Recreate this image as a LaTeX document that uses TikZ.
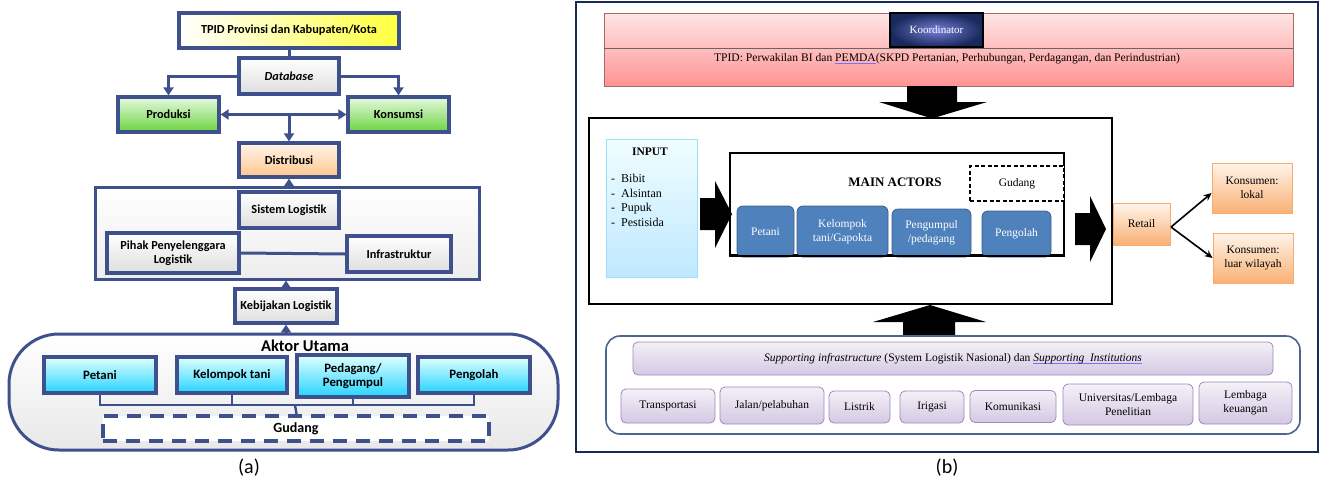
\documentclass[tikz,border=0pt]{standalone}
\usepackage{fontspec}
\setmainfont{Carlito}
\newfontfamily\cam{Liberation Serif}
\usetikzlibrary{arrows.meta,calc}
\definecolor{abl}{RGB}{63,81,141}
\definecolor{navy}{RGB}{24,42,92}
\definecolor{actb}{RGB}{79,129,189}
\definecolor{actd}{RGB}{56,93,138}
\definecolor{orb}{RGB}{247,150,70}
\definecolor{purb}{RGB}{160,134,192}
\definecolor{supb}{RGB}{74,101,145}
\newcommand\bluline[1]{\setbox0\hbox{#1}\rlap{\textcolor{blue!55}{\rule[-2pt]{\wd0}{0.6pt}}}\box0}
\begin{document}
\begin{tikzpicture}[x=1pt,y=-1pt,
  abox/.style={draw=abl, line width=3.2pt, inner sep=1pt, align=center,
    font=\fontsize{12.3}{13.5}\selectfont\bfseries},
  graybox/.style={abox, top color=white, bottom color=black!13},
  greenbox/.style={abox, top color=green!60!olive!12!white, bottom color=green!55!olive!75!white},
  orangebox/.style={abox, top color=orange!8, bottom color=orange!45!white},
  cyanbox/.style={abox, top color=cyan!12, bottom color=cyan!80!blue!85, font=\fontsize{12.8}{13.8}\selectfont\bfseries},
  aarr/.style={draw=abl, line width=3pt, -{Triangle[length=8pt,width=10pt]}},
  aline/.style={draw=abl, line width=3pt},
  bbox/.style={inner sep=1pt, align=center, font=\cam\fontsize{11.5}{14}\selectfont},
  actor/.style={bbox, draw=actd, line width=0.8pt, fill=actb, rounded corners=6pt, text=white},
  orbox/.style={bbox, draw=orb!80, line width=0.8pt, top color=orange!8, bottom color=orb!75},
  purbox/.style={bbox, draw=purb, line width=0.8pt, top color=purb!12, bottom color=purb!45, rounded corners=5pt},
  barr/.style={draw=black, line width=1.6pt, -{Stealth[length=8pt,width=7pt]}},
  lbl/.style={font=\fontsize{20}{22}\selectfont}
]
\useasboundingbox (0,0) rectangle (1320,483);

% ================= panel (a) =================
\node[abox, minimum width=220pt, minimum height=35pt, left color=white, right color=yellow!75] (tpid) at (289,30.5) {TPID Provinsi dan Kabupaten/Kota};
\node[graybox, minimum width=100pt, minimum height=36pt] (db) at (289,76) {\textit{Database}};
\node[greenbox, minimum width=101pt, minimum height=35pt] (prod) at (168.5,114.5) {Produksi};
\node[greenbox, minimum width=101pt, minimum height=35pt] (kons) at (398.5,114.5) {Konsumsi};
\node[orangebox, minimum width=100pt, minimum height=34pt] (dist) at (289,160) {Distribusi};

\node[draw=abl, line width=3pt, top color=white, bottom color=black!7, minimum width=384pt, minimum height=92pt] (sys) at (287,233) {};
\node[graybox, minimum width=100pt, minimum height=36pt] (sl) at (289,210) {Sistem Logistik};
\node[graybox, minimum width=132pt, minimum height=40pt] (pihak) at (173,253) {Pihak Penyelenggara\\Logistik};
\node[graybox, minimum width=104pt, minimum height=36pt] (infra) at (399,254) {Infrastruktur};
\node[graybox, minimum width=102pt, minimum height=34pt] (keb) at (286,306) {Kebijakan Logistik};

\node[draw=abl, line width=3pt, top color=white, bottom color=black!9, rounded corners=50pt, minimum width=549pt, minimum height=116pt] (aktor) at (283.5,392) {};
\node[font=\fontsize{16.5}{17}\selectfont\bfseries] (aktorlbl) at (305,346) {Aktor Utama};
\node[cyanbox, minimum width=112pt, minimum height=36pt] (petani) at (100,375) {Petani};
\node[cyanbox, minimum width=110pt, minimum height=36pt] (kt) at (232,375) {Kelompok tani};
\node[cyanbox, line width=3.6pt, minimum width=112pt, minimum height=42pt] (ped) at (353,376) {Pedagang/\\Pengumpul};
\node[cyanbox, minimum width=112pt, minimum height=36pt] (peng) at (474,375) {Pengolah};
\node[abox, draw=abl, fill=white, dash pattern=on 14pt off 9pt, minimum width=386pt, minimum height=25pt, font=\fontsize{14}{15}\selectfont\bfseries] (gud) at (296,428.5) {Gudang};

\draw[aline] (tpid.south) -- (db.north);
\draw[aarr] (db.west) -| (prod.north);
\draw[aarr] (db.east) -| (kons.north);
\draw[draw=abl, line width=3pt, {Triangle[length=8pt,width=10pt]}-{Triangle[length=8pt,width=10pt]}] (prod.east) -- (kons.west);
\coordinate (mid) at (289,114.5);
\draw[aarr] (mid) -- (dist.north);
\draw[aarr] (dist.south |- sys.north) -- (dist.south);
\draw[aline] (pihak.east) -- (infra.west);
\draw[aarr] (keb.north) -- (keb.north |- sys.south);
\draw[aarr] (keb.south |- aktor.north) -- (keb.south);
\coordinate (brk) at (0,405);
\draw[aline, line width=2.4pt] (petani.south) -- (petani.south |- brk) -- (peng.south |- brk) -- (peng.south);
\draw[aline, line width=2.4pt] (kt.south) -- (kt.south |- brk);
\draw[aline, line width=2.4pt] (ped.south) -- (ped.south |- brk);
\coordinate (bk1) at (295,405);
\coordinate (bk2) at (297,417);
\draw[aline, line width=2.4pt] (bk1) -- (bk2);
\node[lbl] (la) at (249,468) {(a)};

% ================= panel (b) =================
\node[draw=navy, line width=2pt, minimum width=742pt, minimum height=450pt, inner sep=0pt] (frame) at (947,227) {};
\node[draw=red!45!black!60, line width=0.6pt, top color=red!10, bottom color=red!42, minimum width=689pt, minimum height=73pt, inner sep=0pt] (pink) at (948.5,49.5) {};
\draw[black!60, line width=0.8pt] (pink.west |- 0,48) -- (pink.east |- 0,48);
\node[draw=black, line width=1.4pt, inner color=navy!45!blue!55!white, outer color=navy, minimum width=93pt, minimum height=34pt, inner sep=0pt, font=\cam\fontsize{11}{12}\selectfont, text=white] (koord) at (936.5,30) {Koordinator};
\node[bbox, font=\cam\fontsize{11.6}{13}\selectfont] (tpidb) at (947,59) {TPID: Perwakilan BI dan \bluline{PEMDA}(SKPD Pertanian, Perhubungan, Perdagangan, dan Perindustrian)};

\fill[black] (907,86) -- (957,86) -- (957,102) -- (987,102) -- (932,118.5) -- (879,102) -- (907,102) -- cycle;

\node[draw=black, line width=1.6pt, minimum width=523pt, minimum height=186pt, inner sep=0pt] (main) at (850.5,211) {};
\node[draw=blue!30!cyan!40, line width=0.8pt, top color=blue!12!cyan!6, bottom color=blue!35!cyan!25, minimum width=91pt, minimum height=138pt, inner sep=0pt] (input) at (651.5,208) {};
\node[bbox, font=\cam\bfseries\fontsize{11.5}{13}\selectfont] (inputlbl) at (650,152) {INPUT};
\node[bbox, align=left, anchor=north west, font=\cam\fontsize{12}{14.6}\selectfont] (inputlist) at (610,173) {-\ \ Bibit\\-\ \ Alsintan\\-\ \ Pupuk\\-\ \ Pestisida};

\fill[black] (700,198) -- (715,198) -- (715,181) -- (732,214) -- (715,248) -- (715,230) -- (700,230) -- cycle;

\node[draw=black, line width=1.6pt, minimum width=334pt, minimum height=102pt, inner sep=0pt] (ma) at (897,204) {};
\node[bbox, font=\cam\bfseries\fontsize{13}{14}\selectfont] (malbl) at (895,182) {MAIN ACTORS};
\node[bbox, draw=black, line width=1.6pt, dash pattern=on 4pt off 2.5pt, fill=white, minimum width=94pt, minimum height=35pt] (gudb) at (1017,183.5) {Gudang};
\node[actor, minimum width=57pt, minimum height=51pt] (bpet) at (765.5,231.5) {Petani};
\node[actor, minimum width=91pt, minimum height=51pt] (bkel) at (842.5,231.5) {Kelompok\\tani/Gapokta};
\node[actor, minimum width=79pt, minimum height=48pt] (bpen) at (931.5,233) {Pengumpul\\/pedagang};
\node[actor, minimum width=69pt, minimum height=46pt] (bpgl) at (1016.5,234) {Pengolah};
\draw[black, line width=1.6pt] (ma.south west) -- (ma.south east);

\fill[black] (1075,213) -- (1090,213) -- (1090,196) -- (1106,229) -- (1090,262) -- (1090,245) -- (1075,245) -- cycle;

\node[orbox, minimum width=57pt, minimum height=42pt] (retail) at (1141.5,224) {Retail};
\node[orbox, minimum width=80pt, minimum height=50pt] (lokal) at (1252,188) {Konsumen:\\lokal};
\node[orbox, minimum width=80pt, minimum height=50pt] (luar) at (1253,258) {Konsumen:\\luar wilayah};
\coordinate (rsplit) at (1171,227);
\draw[barr] (rsplit) -- ($(lokal.west)+(0,5)$);
\draw[barr] (rsplit) -- (luar.west);

\fill[black] (903,336) -- (955,336) -- (955,322) -- (986,322) -- (930,305) -- (873,322) -- (903,322) -- cycle;

\node[draw=supb, line width=1.6pt, fill=white, rounded corners=14pt, minimum width=694pt, minimum height=98pt, inner sep=0pt] (support) at (953,385) {};
\node[purbox, minimum width=640pt, minimum height=33pt] (header) at (953,358.5) {\textit{Supporting infrastructure} (System Logistik Nasional) dan \textit{\bluline{Supporting\ \ Institutions}}};
\node[purbox, minimum width=94pt, minimum height=34pt] (trans) at (668,406) {Transportasi};
\node[purbox, minimum width=104pt, minimum height=37pt] (jalan) at (772,405.5) {Jalan/pelabuhan};
\node[purbox, minimum width=61pt, minimum height=32pt] (listrik) at (859.5,407) {Listrik};
\node[purbox, minimum width=64pt, minimum height=32pt] (irigasi) at (932,407) {Irigasi};
\node[purbox, minimum width=86pt, minimum height=32pt] (komun) at (1013,406.5) {Komunikasi};
\node[purbox, minimum width=130pt, minimum height=41pt] (univ) at (1128,404.5) {Universitas/Lembaga\\Penelitian};
\node[purbox, minimum width=93pt, minimum height=42pt] (lemb) at (1245.5,403) {Lembaga\\keuangan};
\node[lbl] (lb) at (947,468) {(b)};
\end{tikzpicture}
\end{document}
